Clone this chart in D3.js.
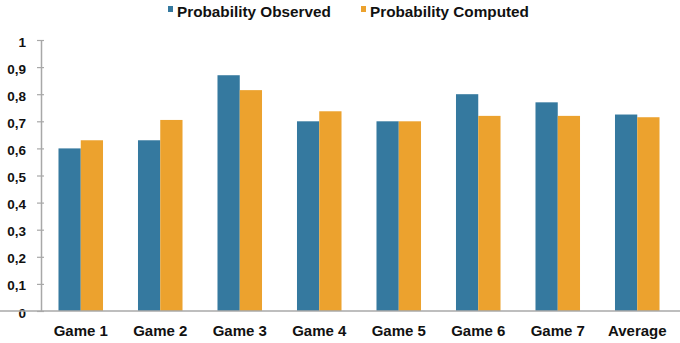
<!DOCTYPE html>
<html lang="en">
<head>
    <meta charset="UTF-8">
    <title>Probability Observed vs Computed</title>
    <script src="https://cdn.jsdelivr.net/npm/d3@7"></script>
    <style>
        body { margin: 0; background: #fff; }
        svg text { font-family: "Liberation Sans", Arial, sans-serif; font-weight: bold; fill: #111; }
    </style>
</head>
<body>
    <script>
        // data
        let games = ['Game 1', 'Game 2', 'Game 3', 'Game 4', 'Game 5', 'Game 6', 'Game 7', 'Average'];
        let observed = [0.60, 0.63, 0.87, 0.70, 0.70, 0.80, 0.77, 0.725];
        let computed = [0.63, 0.705, 0.815, 0.737, 0.70, 0.72, 0.72, 0.715];
        let seriesNames = ['Probability Observed', 'Probability Computed'];
        let yTicks = [0, 0.1, 0.2, 0.3, 0.4, 0.5, 0.6, 0.7, 0.8, 0.9, 1];

        let width = 680,
            height = 343;
        let colors = ['#35799f', '#eca22e'];

        let svg = d3.select('body')
                    .append('svg')
                    .attr('width', width)
                    .attr('height', height);

        // scales
        let x = d3.scaleBand()
                  .domain(games)
                  .range([41, 677])
                  .paddingInner(0.44)
                  .paddingOuter(0.22);
        let xSub = d3.scaleBand()
                     .domain([0, 1])
                     .range([0, x.bandwidth()]);
        let y = d3.scaleLinear()
                  .domain([0, 1])
                  .range([311, 40]);

        // bars
        let rows = games.map((g, i) => ({ game: g, values: [observed[i], computed[i]] }));
        let groups = svg.selectAll('g.group')
                        .data(rows)
                        .enter()
                        .append('g')
                        .attr('class', 'group')
                        .attr('transform', d => `translate(${x(d.game)},0)`);
        groups.selectAll('rect')
              .data(d => d.values)
              .enter()
              .append('rect')
              .attr('x', (d, i) => xSub(i))
              .attr('y', d => y(d))
              .attr('width', xSub.bandwidth())
              .attr('height', d => y(0) - y(d))
              .attr('fill', (d, i) => colors[i]);

        // y axis
        let yAxis = d3.axisLeft(y)
                      .tickValues(yTicks)
                      .tickSize(0)
                      .tickPadding(15)
                      .tickFormat(d => d3.format('.1~f')(d).replace('.', ','));
        let yg = svg.append('g')
                    .attr('transform', 'translate(41,0)')
                    .call(yAxis);
        yg.select('.domain').attr('stroke', '#a8a8a8').attr('stroke-width', 1.5);
        yg.selectAll('.tick line')
          .attr('x1', -4).attr('x2', 3)
          .attr('stroke', '#a8a8a8').attr('stroke-width', 1.2);
        yg.selectAll('.tick text')
          .style('font-size', '13.5px')
          .attr('dy', '0.45em');

        // x axis
        let xAxis = d3.axisBottom(x).tickSize(0).tickPadding(14);
        let xg = svg.append('g')
                    .attr('transform', `translate(0,${y(0)})`)
                    .call(xAxis);
        xg.select('.domain')
          .attr('d', 'M-3,0H680')
          .attr('stroke', '#a8a8a8').attr('stroke-width', 1.5);
        xg.selectAll('.tick text').style('font-size', '15px');

        // legend
        let legendX = [168, 361];
        let legend = svg.selectAll('g.legend')
                        .data(seriesNames)
                        .enter()
                        .append('g')
                        .attr('class', 'legend')
                        .attr('transform', (d, i) => `translate(${legendX[i]},0)`);
        legend.append('rect')
              .attr('x', 0).attr('y', 6)
              .attr('width', 5).attr('height', 6)
              .attr('fill', (d, i) => colors[i]);
        legend.append('text')
              .attr('x', 9).attr('y', 17)
              .style('font-size', '15.3px')
              .text(d => d);
    </script>
</body>
</html>
